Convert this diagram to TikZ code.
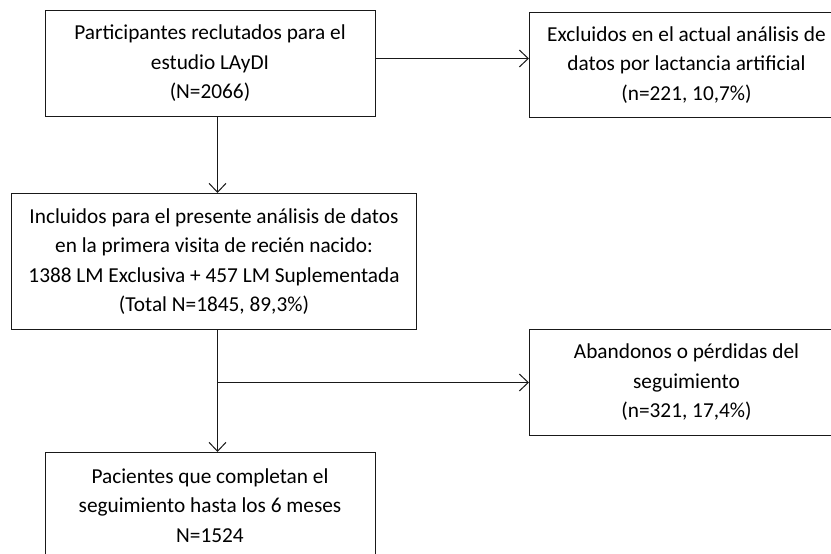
\documentclass[tikz,border=0pt]{standalone}
\usepackage{fontspec}
\setmainfont{Carlito}
\usetikzlibrary{arrows.meta}
\begin{document}
\begin{tikzpicture}[x=1pt,y=-1pt,
  box/.style={draw=black!90, line width=1pt, align=center, anchor=north west,
    inner sep=0pt, font=\fontsize{21.3}{29.5}\selectfont},
  conn/.style={draw=black!90, line width=1pt, -{Straight Barb[length=9pt,width=17pt,line width=1pt]}}]
\useasboundingbox (0,0) rectangle (831,554);
\clip (0,0) rectangle (831,554);
\node[box, minimum width=330pt, minimum height=106pt] (a) at (44.5,10)
  {Participantes reclutados para el\\ estudio LAyDI\\ (N=2066)};
\node[box, minimum width=314pt, minimum height=105pt] (b) at (529,12)
  {Excluidos en el actual análisis de\\ datos por lactancia artificial\\ (n=221, 10,7\%)};
\node[box, minimum width=405pt, minimum height=136pt] (c) at (11,193)
  {Incluidos para el presente análisis de datos\\ en la primera visita de recién nacido:\\ 1388 LM Exclusiva + 457 LM Suplementada\\ (Total N=1845, 89,3\%)};
\node[box, minimum width=314pt, minimum height=106pt] (d) at (529,329)
  {Abandonos o pérdidas del\\ seguimiento\\ (n=321, 17,4\%)};
\node[box, minimum width=330pt, minimum height=106pt] (e) at (44.5,452)
  {Pacientes que completan el\\ seguimiento hasta los 6 meses\\ N=1524};
\draw[conn] ([yshift=5pt]a.east) coordinate (p1) -- (p1 -| b.west);
\draw[conn] ([xshift=7.5pt]a.south) coordinate (p2) -- (p2 |- c.north);
\draw[line width=1pt, draw=black!90] ([xshift=3.5pt]c.south) coordinate (p3) -- (p3 |- d.west) coordinate (p4);
\draw[conn] (p4) -- (d.west);
\draw[conn] (p3) -- (p3 |- e.north);
\end{tikzpicture}
\end{document}
